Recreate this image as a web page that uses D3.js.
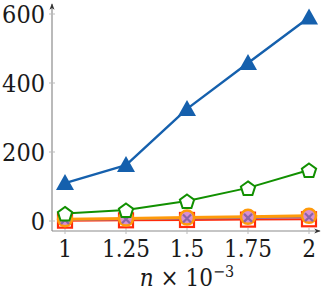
<!DOCTYPE html>
<html>
<head>
<meta charset="utf-8">
<script src="https://cdn.jsdelivr.net/npm/d3@7"></script>
<style>
  html, body { margin: 0; padding: 0; background: #fff; }
</style>
</head>
<body>
<svg id="chart" width="322" height="294"></svg>
<script>
const nValues = [1, 1.25, 1.5, 1.75, 2];
const xTicks = ["1", "1.25", "1.5", "1.75", "2"];
const yTicks = [0, 200, 400, 600];

const blueTri = [110, 162, 325, 458, 590];
const greenPent = [22, 32, 58, 96, 148];
const redSquare = [1, 2, 3, 4, 5];
const purpleX = [3, 5, 7, 9, 11];
const orangeCirc = [5, 7, 10, 12, 15];

const series = [
  { name: "red", values: redSquare, color: "#ff2a0a", width: 2, marker: "square" },
  { name: "purple", values: purpleX, color: "#8b64a8", width: 2, marker: "none" },
  { name: "orange", values: orangeCirc, color: "#ff9a0a", width: 3, marker: "circle" },
  { name: "purpleMark", values: purpleX, color: "#8b64a8", width: 0, marker: "cross" },
  { name: "green", values: greenPent, color: "#119000", width: 2, marker: "pentagon" },
  { name: "blue", values: blueTri, color: "#1560ad", width: 2.4, marker: "triangle" },
];

const font = "'DejaVu Serif Condensed', 'DejaVu Serif'";
const svg = d3.select("#chart");
const axisColor = "#8c8c8c";

const x = d3.scaleLinear().domain([1, 2]).range([65, 309]);
const y = d3.scaleLinear().domain([0, 600]).range([221, 14]);
const axisX = 52, axisY = 231;

// arrows
const defs = svg.append("defs");
defs.append("marker")
  .attr("id", "arrow")
  .attr("viewBox", "0 0 10 10")
  .attr("refX", 8).attr("refY", 5)
  .attr("markerWidth", 6).attr("markerHeight", 6)
  .attr("orient", "auto")
  .append("path")
  .attr("d", "M0,1.5 L9,5 L0,8.5 L2.5,5 Z")
  .attr("fill", "#333");

// axes
svg.append("line")
  .attr("x1", axisX).attr("y1", axisY)
  .attr("x2", axisX).attr("y2", 4)
  .attr("stroke", axisColor).attr("stroke-width", 1.2)
  .attr("marker-end", "url(#arrow)");
svg.append("line")
  .attr("x1", axisX).attr("y1", axisY)
  .attr("x2", 320).attr("y2", axisY)
  .attr("stroke", axisColor).attr("stroke-width", 1.2)
  .attr("marker-end", "url(#arrow)");

// y ticks
svg.append("g").selectAll("line")
  .data(yTicks)
  .join("line")
  .attr("x1", axisX - 3).attr("x2", axisX + 3)
  .attr("y1", d => y(d)).attr("y2", d => y(d))
  .attr("stroke", "#bbb").attr("stroke-width", 1);
svg.append("g").selectAll("text")
  .data(yTicks)
  .join("text")
  .attr("x", axisX - 7)
  .attr("y", d => y(d))
  .attr("dy", "0.36em")
  .attr("text-anchor", "end")
  .style("font-family", font)
  .attr("font-size", 25)
  .attr("fill", "#1a1a1a")
  .text(d => d);

// x ticks
svg.append("g").selectAll("line")
  .data(nValues)
  .join("line")
  .attr("x1", d => x(d)).attr("x2", d => x(d))
  .attr("y1", axisY - 3).attr("y2", axisY + 3)
  .attr("stroke", "#bbb").attr("stroke-width", 1);
svg.append("g").selectAll("text")
  .data(nValues)
  .join("text")
  .attr("x", d => x(d))
  .attr("y", 257)
  .attr("text-anchor", "middle")
  .style("font-family", font)
  .attr("font-size", 24)
  .attr("fill", "#1a1a1a")
  .text((d, i) => xTicks[i]);

// axis title
const title = svg.append("text")
  .attr("x", 187).attr("y", 286)
  .attr("text-anchor", "middle")
  .style("font-family", font)
  .attr("font-size", 24)
  .attr("fill", "#1a1a1a");
title.append("tspan").attr("font-style", "italic").text("n");
title.append("tspan").text(" × 10");
title.append("tspan").attr("font-size", 16).attr("dy", -9).text("−3");

// lines
const line = d3.line()
  .x((d, i) => x(nValues[i]))
  .y(d => y(d));

series.forEach(s => {
  const g = svg.append("g");
  if (s.width > 0) {
    g.append("path")
      .datum(s.values)
      .attr("d", line)
      .attr("fill", "none")
      .attr("stroke", s.color)
      .attr("stroke-width", s.width)
      .attr("stroke-linejoin", "round");
  }
  const pts = g.selectAll("g.pt")
    .data(s.values)
    .join("g")
    .attr("transform", (d, i) => `translate(${x(nValues[i])},${y(d)})`);
  if (s.marker === "triangle") {
    pts.append("path")
      .attr("d", "M0,-9 L9,7 L-9,7 Z")
      .attr("fill", s.color);
  } else if (s.marker === "pentagon") {
    const r = 7.5;
    const p = d3.range(5).map(k => {
      const a = -Math.PI / 2 + k * 2 * Math.PI / 5;
      return [r * Math.cos(a), r * Math.sin(a) + 1];
    });
    pts.append("path")
      .attr("d", "M" + p.join("L") + "Z")
      .attr("fill", "#fff")
      .attr("stroke", s.color)
      .attr("stroke-width", 2);
  } else if (s.marker === "square") {
    pts.append("rect")
      .attr("x", -7).attr("y", -7)
      .attr("width", 14).attr("height", 14)
      .attr("fill", "#fff")
      .attr("stroke", s.color)
      .attr("stroke-width", 2.2);
  } else if (s.marker === "circle") {
    pts.append("circle")
      .attr("r", 7)
      .attr("fill", "#d98fd0")
      .attr("stroke", s.color)
      .attr("stroke-width", 2.5);
  } else if (s.marker === "cross") {
    pts.append("path")
      .attr("d", "M-4,-4 L4,4 M-4,4 L4,-4")
      .attr("stroke", s.color)
      .attr("stroke-width", 2.2);
  }
});
</script>
</body>
</html>
